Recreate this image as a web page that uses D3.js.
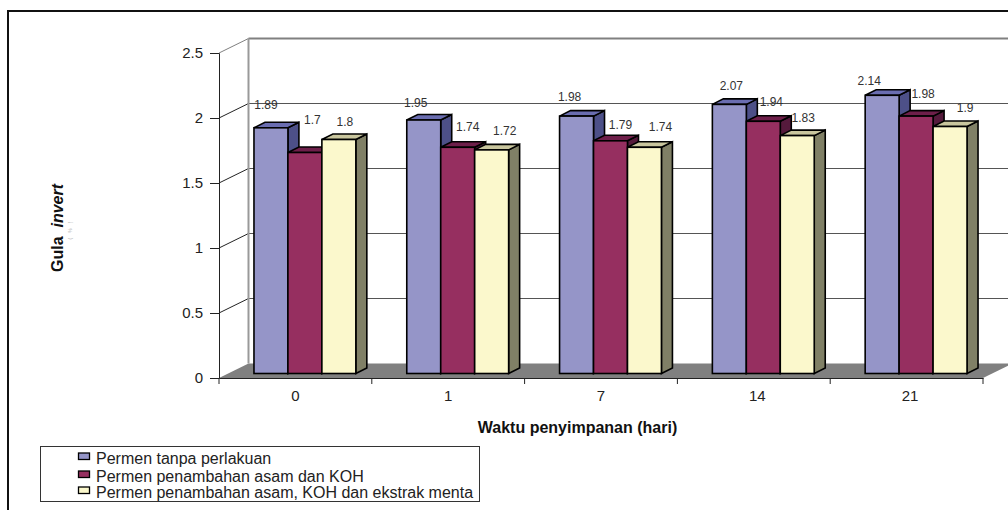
<!DOCTYPE html>
<html>
<head>
<meta charset="utf-8">
<script src="https://cdn.jsdelivr.net/npm/d3@7"></script>
<style>
  html, body { margin: 0; background: #fff; }
  svg { display: block; font-family: "Liberation Sans", Arial, sans-serif; }
</style>
</head>
<body>
<svg id="chart" width="1008" height="510"></svg>
<script>
const days = ['0', '1', '7', '14', '21'];
const seriesNames = [
  'Permen tanpa perlakuan',
  'Permen penambahan asam dan KOH',
  'Permen penambahan asam, KOH dan ekstrak menta'
];
const plain = [1.89, 1.95, 1.98, 2.07, 2.14];
const acidKoh = [1.7, 1.74, 1.79, 1.94, 1.98];
const acidKohMint = [1.8, 1.72, 1.74, 1.83, 1.9];
const yTicks = [0, 0.5, 1, 1.5, 2, 2.5];

const allSeries = [plain, acidKoh, acidKohMint];
const faceColors = ['#9595c8', '#962f60', '#fbf8cc'];
const topColors = ['#6a6db0', '#6e1f4a', '#c9c69e'];
const sideColors = ['#4d5088', '#551a3c', '#808066'];

// the labels were placed by hand in the original, so each has its own nudge from its bar corner
const labelNudge = [
  [[12, -23], [9, -17], [10, -19], [19, -19], [4, -15]],
  [[24.5, -33], [27, -21], [27, -16], [25, -20], [24, -22]],
  [[23, -17.5], [30, -19], [33, -21], [23, -18], [32, -19]]
];

const svg = d3.select('#chart');
const x = d3.scaleBand().domain(days).range([219, 983]);
const y = d3.scaleLinear().domain([0, 2.5]).range([378, 53]);
const inner = d3.scaleBand().domain([0, 1, 2]).range([0, x.bandwidth()]).paddingOuter(0.75).paddingInner(0);

// depth offsets of the fake 3d box
const backDx = 29.5, backDy = -14.5;
const barDx = 9.5, barDy = -4.5;
const sideDx = 11, sideDy = -5.5;
const xEnd = x.range()[1];

const poly = pts => 'M' + pts.map(p => p.join(',')).join('L') + 'Z';

// floor
svg.append('path')
  .attr('d', poly([[x.range()[0], y(0)], [xEnd, y(0)], [xEnd + backDx, y(0) + backDy], [x.range()[0] + backDx, y(0) + backDy]]))
  .attr('fill', '#808080');

// back wall and grid
const grid = svg.append('g');
yTicks.forEach(t => {
  if (t === 0) return;
  grid.append('line')
    .attr('x1', x.range()[0] + backDx).attr('x2', xEnd + backDx)
    .attr('y1', y(t) + backDy).attr('y2', y(t) + backDy)
    .attr('stroke', t === 2.5 ? '#808080' : '#555')
    .attr('stroke-width', t === 2.5 ? 2 : 1);
  grid.append('line')
    .attr('x1', x.range()[0]).attr('x2', x.range()[0] + backDx)
    .attr('y1', y(t)).attr('y2', y(t) + backDy)
    .attr('stroke', t === 2.5 ? '#808080' : '#222');
});
grid.append('line')
  .attr('x1', x.range()[0] + backDx).attr('x2', x.range()[0] + backDx)
  .attr('y1', y(2.5) + backDy).attr('y2', y(0) + backDy)
  .attr('stroke', '#999').attr('stroke-width', 2);

// bars, left to right so each one covers the side of the previous
days.forEach((d, i) => {
  allSeries.forEach((values, s) => {
    const x0 = x(d) + inner(s) + barDx;
    const x1 = x0 + inner.bandwidth();
    const y0 = y(0) + barDy;
    const yT = y(values[i]) + barDy;
    const g = svg.append('g').attr('stroke', '#000').attr('stroke-width', 1.6).attr('stroke-linejoin', 'miter');
    g.append('path')
      .attr('d', poly([[x1, y0], [x1 + sideDx, y0 + sideDy], [x1 + sideDx, yT + sideDy], [x1, yT]]))
      .attr('fill', sideColors[s]);
    g.append('path')
      .attr('d', poly([[x0, yT], [x0 + sideDx, yT + sideDy], [x1 + sideDx, yT + sideDy], [x1, yT]]))
      .attr('fill', topColors[s]);
    g.append('rect')
      .attr('x', x0).attr('y', yT)
      .attr('width', x1 - x0).attr('height', y0 - yT)
      .attr('fill', faceColors[s]);
  });
});

// value labels
days.forEach((d, i) => {
  allSeries.forEach((values, s) => {
    svg.append('text')
      .attr('x', x(d) + inner(s) + barDx + labelNudge[s][i][0])
      .attr('y', y(values[i]) + barDy + labelNudge[s][i][1])
      .attr('dy', '0.35em')
      .attr('font-size', 12)
      .attr('fill', '#333')
      .attr('text-anchor', 'middle')
      .text(values[i]);
  });
});

// axes
const axisX = d3.axisBottom(x).tickSize(0).tickPadding(12);
const gx = svg.append('g').attr('transform', `translate(0,${y(0)})`).call(axisX);
gx.select('.domain').attr('stroke', '#222').attr('stroke-width', 1);
gx.selectAll('text').attr('font-size', 15).attr('font-family', 'inherit').attr('fill', '#222')
  .attr('dx', d => d.length > 1 ? 3.5 : 0);
gx.selectAll('.sep').data(d3.range(days.length + 1)).enter().append('line')
  .attr('class', 'sep')
  .attr('x1', i => x.range()[0] + i * x.step()).attr('x2', i => x.range()[0] + i * x.step())
  .attr('y1', 0).attr('y2', 6)
  .attr('stroke', '#222');

const axisY = d3.axisLeft(y).tickValues(yTicks).tickSize(9).tickPadding(7).tickFormat(d3.format('~g'));
const gy = svg.append('g').attr('transform', `translate(${x.range()[0]},0)`).call(axisY);
gy.selectAll('path,line').attr('stroke', '#222');
gy.selectAll('text').attr('font-size', 15).attr('font-family', 'inherit').attr('fill', '#222');

// axis titles
svg.append('text')
  .attr('x', 577.5).attr('y', 433)
  .attr('text-anchor', 'middle')
  .attr('font-size', 16).attr('font-weight', 'bold').attr('fill', '#111')
  .text('Waktu penyimpanan (hari)');

const yt = svg.append('text')
  .attr('transform', 'translate(63,228) rotate(-90)')
  .attr('text-anchor', 'middle')
  .attr('font-size', 16).attr('font-weight', 'bold').attr('fill', '#111');
yt.append('tspan').text('Gula\u00a0\u00a0');
yt.append('tspan').attr('font-style', 'italic').text('invert');

// the unit below the title is nearly cut away in the original
svg.append('text')
  .attr('transform', 'translate(72,228) rotate(-90)')
  .attr('text-anchor', 'middle')
  .attr('font-size', 5).attr('letter-spacing', 5).attr('fill', '#aaa')
  .text('(%)');

// legend
const legend = svg.append('g');
legend.append('rect')
  .attr('x', 40.5).attr('y', 446.5).attr('width', 439).attr('height', 55)
  .attr('fill', '#fff').attr('stroke', '#333');
const legendRows = [458, 476, 492];
seriesNames.forEach((name, s) => {
  legend.append('rect')
    .attr('x', 78.5).attr('y', legendRows[s] - 5).attr('width', 11).attr('height', 6.5)
    .attr('fill', faceColors[s]).attr('stroke', '#000').attr('stroke-width', 1.3);
  legend.append('text')
    .attr('x', 96).attr('y', legendRows[s] + 5.5)
    .attr('font-size', 16).attr('fill', '#222')
    .text(name);
});

// outer frame, open at the bottom and on the right
svg.append('path')
  .attr('d', 'M8,510V11H1008')
  .attr('fill', 'none').attr('stroke', '#111').attr('stroke-width', 2);
</script>
</body>
</html>
